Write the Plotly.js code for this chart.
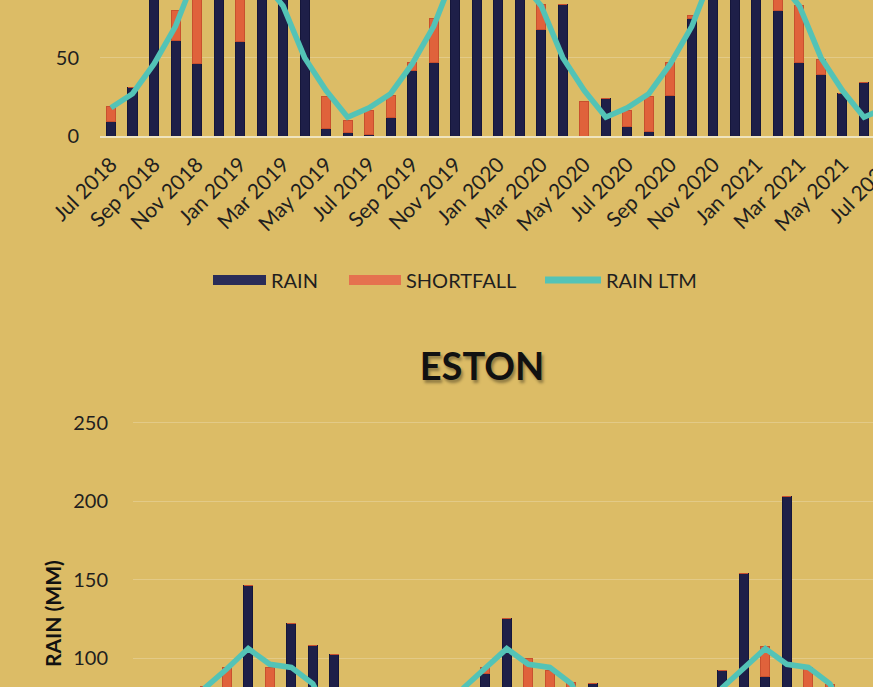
<!DOCTYPE html>
<html>
<head>
<meta charset="utf-8">
<script src="https://cdn.plot.ly/plotly-3.0.1.min.js"></script>
<style>
html,body{margin:0;padding:0;background:#dcbc66;}
#chart{width:873px;height:687px;}
</style>
</head>
<body>
<div id="chart"></div>
<script>
// ---- data ----
const months = ['Jul 2018','Aug 2018','Sep 2018','Oct 2018','Nov 2018','Dec 2018',
  'Jan 2019','Feb 2019','Mar 2019','Apr 2019','May 2019','Jun 2019',
  'Jul 2019','Aug 2019','Sep 2019','Oct 2019','Nov 2019','Dec 2019',
  'Jan 2020','Feb 2020','Mar 2020','Apr 2020','May 2020','Jun 2020',
  'Jul 2020','Aug 2020','Sep 2020','Oct 2020','Nov 2020','Dec 2020',
  'Jan 2021','Feb 2021','Mar 2021','Apr 2021','May 2021','Jun 2021','Jul 2021'];

// upper chart (station above ESTON, partly visible)
const topRain = [9,31,95,61,46,115,60,120,100,90,5,2,
  1,12,42,47,110,140,135,115,68,84,0,24,
  6,3,26,75,120,130,150,80,47,39,27,34,8];
const topShortfall = [10,0,0,19,59,0,70,0,0,0,20,8,
  15,14,5,28,0,0,0,0,16,0,22,0,
  10,22,21,2,0,0,0,20,36,10,0,0,10];
const topLTM = [18,27,46,70,105,125,130,100,83,50,29,12,
  18,27,46,70,105,125,130,100,83,50,29,12,
  18,27,46,70,105,125,130,100,83,50,29,12,18];

// ESTON
const estonRain = [12,25,30,55,50,146,45,122,108,102,10,5,
  3,15,40,60,90,125,60,50,40,84,2,25,
  8,5,30,92,154,88,203,50,40,45,30,35,10];
const estonShortfall = [8,5,20,27,44,0,49,0,0,0,20,10,
  17,15,10,20,4,0,40,42,44.5,0,28,0,
  12,25,20,0,0,19.5,0,44,43,10,0,0,10];
const estonLTM = [20,30,50,81,93,106,96,94,83.5,55,30,15,
  20,30,50,81,93,106,96,94,83.5,55,30,15,
  20,30,50,81,93,106,96,94,83.5,55,30,15,20];

const seriesNames = ['RAIN','SHORTFALL','RAIN LTM'];
const tickLabels = months.filter((m,i)=>i%2===0);

// ---- styles ----
const BG = '#dcbc66';
const NAVY = '#1e1f48';
const ORANGE = '#e0623b';
const TEAL = '#53c3b6';
const FONT = 'Lato, "Open Sans", sans-serif';
const TXT = '#1f1f1f';
const idx = months.map((m,i)=>i);
const tickIdx = idx.filter(i=>i%2===0);

function traces(rain, short, ltm, xa, ya){
  return [
    {type:'bar', name:seriesNames[0], legendgroup:'rain', x:idx, y:rain, xaxis:xa, yaxis:ya,
     marker:{color:NAVY, line:{color:'#15163a', width:1}}, showlegend:false, hoverinfo:'skip'},
    {type:'bar', name:seriesNames[1], legendgroup:'short', x:idx, y:short, xaxis:xa, yaxis:ya,
     marker:{color:ORANGE, line:{color:'#c8502e', width:1}}, showlegend:false, hoverinfo:'skip'},
    {type:'scatter', mode:'lines', name:seriesNames[2], legendgroup:'ltm', x:idx, y:ltm, xaxis:xa, yaxis:ya,
     line:{color:TEAL, width:5.5}, showlegend:false, hoverinfo:'skip'}
  ];
}

// legend keys (wide swatches like the original)
const legendKeys = [
  {type:'scatter', mode:'lines', name:seriesNames[0], legendgroup:'rain', legend:'legend',
   x:[null], y:[null], line:{color:'#2a2c58', width:13}, hoverinfo:'skip'},
  {type:'scatter', mode:'lines', name:seriesNames[1], legendgroup:'short', legend:'legend2',
   x:[null], y:[null], line:{color:'#e5714f', width:13}, hoverinfo:'skip'},
  {type:'scatter', mode:'lines', name:seriesNames[2], legendgroup:'ltm', legend:'legend3',
   x:[null], y:[null], line:{color:TEAL, width:7}, hoverinfo:'skip'}
];

const data = [
  ...traces(topRain, topShortfall, topLTM, 'x', 'y'),
  ...traces(estonRain, estonShortfall, estonLTM, 'x2', 'y2'),
  ...legendKeys
];

const W = 873, H = 687;
function leg(px, iw){
  return {orientation:'h', x:px/W, xanchor:'left', y:1-280/H, yanchor:'middle',
    font:{family:FONT, size:20, color:TXT}, bgcolor:'rgba(0,0,0,0)', itemwidth:iw};
}
const layout = {
  width:W, height:H,
  margin:{l:0,r:0,t:0,b:0,pad:0},
  paper_bgcolor:BG, plot_bgcolor:BG,
  barmode:'stack', bargap:0.58,
  font:{family:FONT, color:TXT, size:20},
  showlegend:true,
  legend:leg(208,53), legend2:leg(344,52), legend3:leg(540,56),
  title:{text:'<b>ESTON</b>', x:482/W, xanchor:'center', y:1-367/H, yanchor:'middle',
    font:{family:FONT, size:38, color:'#111', shadow:'2px 3px 3px rgba(0,0,0,0.35)'}},
  xaxis:{domain:[100/W,1], range:[-0.51,35.42], anchor:'y',
    tickvals:tickIdx, ticktext:tickLabels, tickangle:-45,
    tickfont:{family:FONT, size:21, color:TXT}, ticks:'', ticklabelstandoff:6,
    showgrid:false, zeroline:false, showline:true, linecolor:'#efe4c0', linewidth:2,
    fixedrange:true},
  yaxis:{domain:[1-136/H,1], range:[0,86.8], anchor:'x', dtick:50, tick0:0,
    tickfont:{family:FONT, size:20, color:TXT}, ticks:'', ticklabelstandoff:20,
    showgrid:true, gridcolor:'rgba(255,255,255,0.22)', gridwidth:1, zeroline:false,
    showline:false, fixedrange:true},
  xaxis2:{domain:[133/W,1], range:[-0.35,34.0], anchor:'y2',
    showticklabels:false, ticks:'', showgrid:false, zeroline:false, showline:false,
    fixedrange:true},
  yaxis2:{domain:[0,(H-423+1.6)/H], range:[81.5,251], anchor:'x2', dtick:50, tick0:0,
    tickfont:{family:FONT, size:20, color:TXT}, ticks:'', ticklabelstandoff:24,
    showgrid:true, gridcolor:'rgba(255,255,255,0.22)', gridwidth:1, zeroline:false,
    showline:false, fixedrange:true},
  annotations:[
    {text:'<b>RAIN (MM)</b>', xref:'paper', yref:'paper', x:52/W, y:1-614/H,
     xanchor:'center', yanchor:'middle', textangle:-90, showarrow:false,
     font:{family:FONT, size:21, color:'#111'}},
    // last category label, cut by the right edge as in the original
    {text:months[36], xref:'paper', yref:'paper', x:860/W, y:1-191/H,
     xanchor:'center', yanchor:'middle', textangle:-45, showarrow:false,
     font:{family:FONT, size:21, color:TXT}}
  ]
};

Plotly.newPlot('chart', data, layout, {staticPlot:true, displayModeBar:false});
</script>
</body>
</html>
